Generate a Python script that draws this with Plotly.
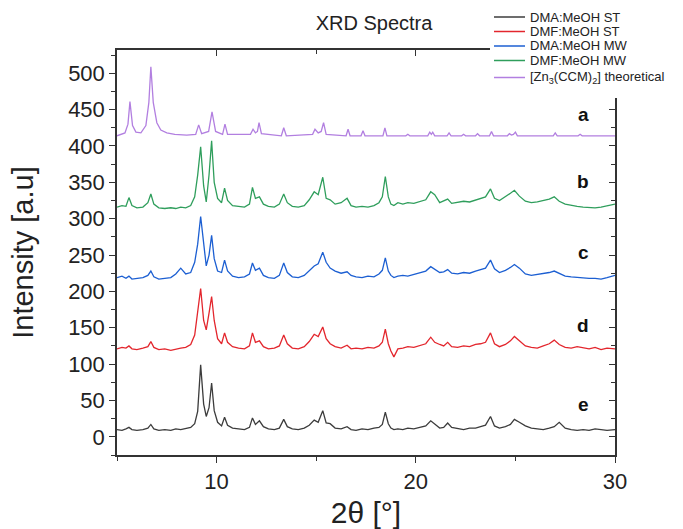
import plotly.graph_objects as go

# ---------------- data ----------------
two_theta = [5.0, 5.25, 5.45, 5.6, 5.75, 6.0, 6.3, 6.55, 6.7, 6.85,
             7.1, 7.4, 7.7, 7.95, 8.2, 8.45, 8.7, 8.9, 9.05, 9.2,
             9.35, 9.48, 9.62, 9.75, 9.88, 10.05, 10.25, 10.4, 10.55, 10.8,
             11.1, 11.4, 11.65, 11.8, 11.95, 12.15, 12.35, 12.6, 12.9, 13.15,
             13.37, 13.55, 13.8, 14.1, 14.4, 14.65, 14.9, 15.1, 15.33, 15.5,
             15.7, 15.95, 16.25, 16.55, 16.75, 17.0, 17.3, 17.6, 17.9, 18.15,
             18.32, 18.47, 18.62, 18.75, 18.9, 19.1, 19.35, 19.6, 19.9, 20.2,
             20.5, 20.75, 20.95, 21.2, 21.4, 21.6, 21.8, 22.1, 22.4, 22.7,
             23.0, 23.25, 23.5, 23.75, 23.95, 24.2, 24.5, 24.75, 24.95, 25.2,
             25.5, 25.8, 26.1, 26.4, 26.7, 26.95, 27.2, 27.5, 27.8, 28.1,
             28.4, 28.7, 29.0, 29.3, 29.6, 30.0]

dma_meoh_st = [10, 9, 11, 13, 10, 9, 10, 12, 17, 11,
               9, 10, 9, 11, 10, 11, 13, 18, 35, 99,
               45, 28, 40, 74, 36, 20, 15, 27, 16, 12,
               11, 10, 13, 26, 17, 22, 14, 11, 10, 12,
               24, 14, 11, 10, 12, 16, 23, 20, 36, 19,
               18, 12, 11, 14, 10, 9, 11, 10, 12, 13,
               17, 34, 18, 12, 10, 11, 10, 12, 11, 13,
               15, 22, 17, 12, 13, 19, 13, 11, 10, 12,
               12, 14, 16, 28, 15, 12, 14, 17, 24, 20,
               15, 12, 11, 10, 12, 14, 20, 12, 10, 9,
               10, 9, 11, 10, 9, 10]

dmf_meoh_st = [121, 123, 122, 125, 121, 120, 122, 124, 131, 123,
               120, 121, 119, 121, 122, 123, 127, 140, 175, 204,
               160, 147, 170, 193, 160, 135, 128, 143, 130, 124,
               122, 121, 125, 143, 130, 132, 124, 121, 122, 125,
               140, 128, 122, 121, 124, 131, 141, 138, 151, 135,
               128, 124, 122, 126, 121, 122, 121, 123, 122, 125,
               130, 148, 128, 118, 110, 121, 122, 124, 123, 126,
               128, 137, 130, 127, 125, 130, 124, 123, 125, 124,
               127, 128, 130, 143, 128, 124, 127, 132, 138, 132,
               125, 123, 122, 125, 128, 133, 127, 123, 122, 124,
               122, 121, 123, 120, 122, 121]

dma_meoh_mw = [219, 221, 218, 221, 217, 218, 219, 222, 228, 220,
               217, 218, 219, 224, 232, 224, 226, 240, 265, 303,
               262, 235, 250, 277, 245, 228, 226, 243, 228, 221,
               219, 220, 224, 239, 229, 232, 222, 219, 218, 222,
               239, 226, 220, 219, 222, 229, 235, 238, 254, 240,
               232, 228, 225, 227, 222, 220, 219, 221, 220, 224,
               229, 246, 228, 222, 219, 221, 222, 221, 223, 226,
               228, 234, 230, 226, 227, 230, 225, 224, 226, 225,
               228, 230, 232, 243, 231, 226, 229, 233, 237, 232,
               224, 222, 223, 224, 226, 228, 225, 221, 220, 219,
               219, 218, 218, 217, 219, 222]

dmf_meoh_mw = [316, 318, 317, 329, 318, 315, 316, 322, 334, 320,
               315, 314, 315, 314, 316, 315, 318, 330, 360, 399,
               345, 323, 360, 407, 350, 328, 322, 342, 325, 318,
               317, 316, 320, 343, 328, 330, 320, 317, 316, 320,
               334, 322, 317, 316, 318, 326, 337, 333, 357, 328,
               326, 320, 322, 328, 318, 316, 317, 316, 318, 322,
               330, 358, 330, 320, 318, 322, 320, 322, 321, 324,
               326, 337, 333, 322, 324, 327, 321, 322, 324, 323,
               326, 328, 330, 341, 328, 325, 330, 335, 339, 331,
               324, 322, 323, 325, 327, 330, 324, 320, 318, 317,
               316, 315, 315, 316, 318, 320]

theo_two_theta = [5.0, 5.4, 5.55, 5.65, 5.78, 5.95, 6.2, 6.45, 6.6, 6.7,
                  6.82, 7.0, 7.2, 7.5, 7.9, 8.5, 8.95, 9.1, 9.25, 9.6,
                  9.77, 9.95, 10.3, 10.42, 10.55, 11.7, 11.83, 11.95, 12.05, 12.13,
                  12.25, 13.25, 13.37, 13.5, 14.82, 14.94, 15.1, 15.25, 15.37, 15.5,
                  16.5, 16.6, 16.7, 17.25, 17.35, 17.45, 18.35, 18.45, 18.55, 19.5,
                  19.6, 19.7, 20.6, 20.7, 20.78, 20.85, 20.95, 21.57, 21.67, 21.77,
                  22.3, 22.4, 22.5, 23.0, 23.1, 23.2, 23.7, 23.8, 23.9, 24.6,
                  24.7, 24.8, 24.9, 25.0, 25.1, 25.7, 25.8, 25.9, 26.9, 27.0,
                  27.1, 28.15, 28.25, 28.35, 29.5, 29.6, 29.7, 30.0]
theoretical = [414, 418, 430, 461, 428, 419, 418, 428, 460, 509,
               460, 432, 422, 418, 416, 415, 416, 429, 417, 420,
               447, 420, 416, 430, 416, 416, 423, 418, 420, 432,
               417, 414, 425, 414, 416, 423, 418, 420, 432, 416,
               414, 423, 414, 414, 421, 414, 414, 425, 414, 414,
               416, 414, 414, 419, 416, 419, 414, 414, 418, 414,
               414, 416, 414, 414, 417, 414, 414, 420, 414, 414,
               417, 415, 416, 419, 414, 414, 415, 414, 414, 418,
               414, 414, 416, 414, 414, 415, 414, 414]

series_names = ["DMA:MeOH ST", "DMF:MeOH ST", "DMA:MeOH MW", "DMF:MeOH MW",
                "[Zn<sub>3</sub>(CCM)<sub>2</sub>] theoretical"]
series_colors = ["#3c3c3c", "#e3262d", "#1c5fd2", "#2f9e5c", "#b27fe0"]

curve_labels = ["a", "b", "c", "d", "e"]
curve_label_y = [443, 351, 253, 153, 44]
curve_label_x = 28.4

x_range = [5, 30]
y_range = [-25, 532]

# ---------------- figure ----------------
FONT = "Liberation Sans, Arial, sans-serif"
W, H = 683, 529
ML, MR, MT, MB = 117, 68, 50, 74
PW, PH = W - ML - MR, H - MT - MB


def px_to_paper(px, py):
    return (px - ML) / PW, (H - MB - py) / PH


fig = go.Figure()
xs = [two_theta] * 4 + [theo_two_theta]
ys = [dma_meoh_st, dmf_meoh_st, dma_meoh_mw, dmf_meoh_mw, theoretical]
for name, color, xv, yv in zip(series_names, series_colors, xs, ys):
    fig.add_trace(go.Scatter(x=xv, y=yv, mode="lines", name=name,
                             line=dict(color=color, width=1.3),
                             showlegend=False))

# invisible helper trace so that the mirrored (top/right) axes are drawn
fig.add_trace(go.Scatter(x=two_theta, y=dma_meoh_st, xaxis="x2", yaxis="y2",
                         mode="lines", line=dict(color="rgba(0,0,0,0)"),
                         showlegend=False, hoverinfo="skip"))

axis_col = "#333333"
fig.update_layout(
    width=W, height=H,
    margin=dict(l=ML, r=MR, t=MT, b=MB, autoexpand=False),
    paper_bgcolor="white", plot_bgcolor="white",
    font=dict(family=FONT, color="#222222"),
    title=dict(text="XRD Spectra", x=374 / W, xanchor="center",
               y=1 - 23 / H, yanchor="middle",
               font=dict(size=20, family=FONT, color="#222222")),
    xaxis=dict(range=x_range, showgrid=False, zeroline=False, automargin=False,
               showline=True, linecolor=axis_col, linewidth=1.5,
               ticks="outside", ticklen=6, tickwidth=1.3, tickcolor=axis_col,
               tick0=0, dtick=10, tickfont=dict(size=22, family=FONT),
               minor=dict(ticks="outside", dtick=5, ticklen=4, tickwidth=1.3,
                          tickcolor=axis_col, showgrid=False),
               title=dict(text="2θ [°]", font=dict(size=30, family=FONT),
                          standoff=10)),
    yaxis=dict(range=y_range, showgrid=False, zeroline=False, automargin=False,
               showline=True, linecolor=axis_col, linewidth=1.5,
               ticks="outside", ticklen=6, tickwidth=1.3, tickcolor=axis_col,
               tick0=0, dtick=50, tickfont=dict(size=22, family=FONT),
               minor=dict(ticks="outside", dtick=25, ticklen=4, tickwidth=1.3,
                          tickcolor=axis_col, showgrid=False),
               title=dict(text="Intensity [a.u]", font=dict(size=29, family=FONT),
                          standoff=26)),
    xaxis2=dict(range=x_range, overlaying="x", side="top", anchor="y",
                automargin=False,
                showgrid=False, zeroline=False, showline=True,
                linecolor=axis_col, linewidth=1.5, ticks="inside", ticklen=6,
                tickwidth=1.3, tickcolor=axis_col, tick0=0, dtick=10,
                showticklabels=False,
                minor=dict(ticks="inside", dtick=5, ticklen=4, tickwidth=1.3,
                           tickcolor=axis_col, showgrid=False)),
    yaxis2=dict(range=y_range, overlaying="y", side="right", anchor="x",
                automargin=False,
                showgrid=False, zeroline=False, showline=True,
                linecolor=axis_col, linewidth=1.5, ticks="inside", ticklen=6,
                tickwidth=1.3, tickcolor=axis_col, tick0=0, dtick=50,
                showticklabels=False,
                minor=dict(ticks="inside", dtick=25, ticklen=4, tickwidth=1.3,
                           tickcolor=axis_col, showgrid=False)),
)

# curve letters a-e
for lab, ly in zip(curve_labels, curve_label_y):
    fig.add_annotation(x=curve_label_x, y=ly, text="<b>%s</b>" % lab,
                       showarrow=False, xanchor="center", yanchor="middle",
                       font=dict(size=19, family=FONT, color="#111111"))

# legend box (white, overlapping the top-right corner of the frame)
x0, y0 = px_to_paper(490, 2)
x1, y1 = px_to_paper(W, 98)
fig.add_shape(type="rect", xref="paper", yref="paper", x0=x0, x1=x1,
              y0=y1, y1=y0, fillcolor="white", line=dict(width=0),
              layer="above")
legend_rows_px = [17, 31.5, 46, 60.5, 77.5]
for name, color, ry in zip(series_names, series_colors, legend_rows_px):
    lx0, ly = px_to_paper(494, ry)
    lx1, _ = px_to_paper(525, ry)
    fig.add_shape(type="line", xref="paper", yref="paper", x0=lx0, x1=lx1,
                  y0=ly, y1=ly, line=dict(color=color, width=1.5),
                  layer="above")
    tx, _ = px_to_paper(528, ry)
    fig.add_annotation(xref="paper", yref="paper", x=tx, y=ly, text=name,
                       showarrow=False, xanchor="left", yanchor="middle",
                       font=dict(size=13, family=FONT, color="#222222"))

fig.write_html("out.html")
